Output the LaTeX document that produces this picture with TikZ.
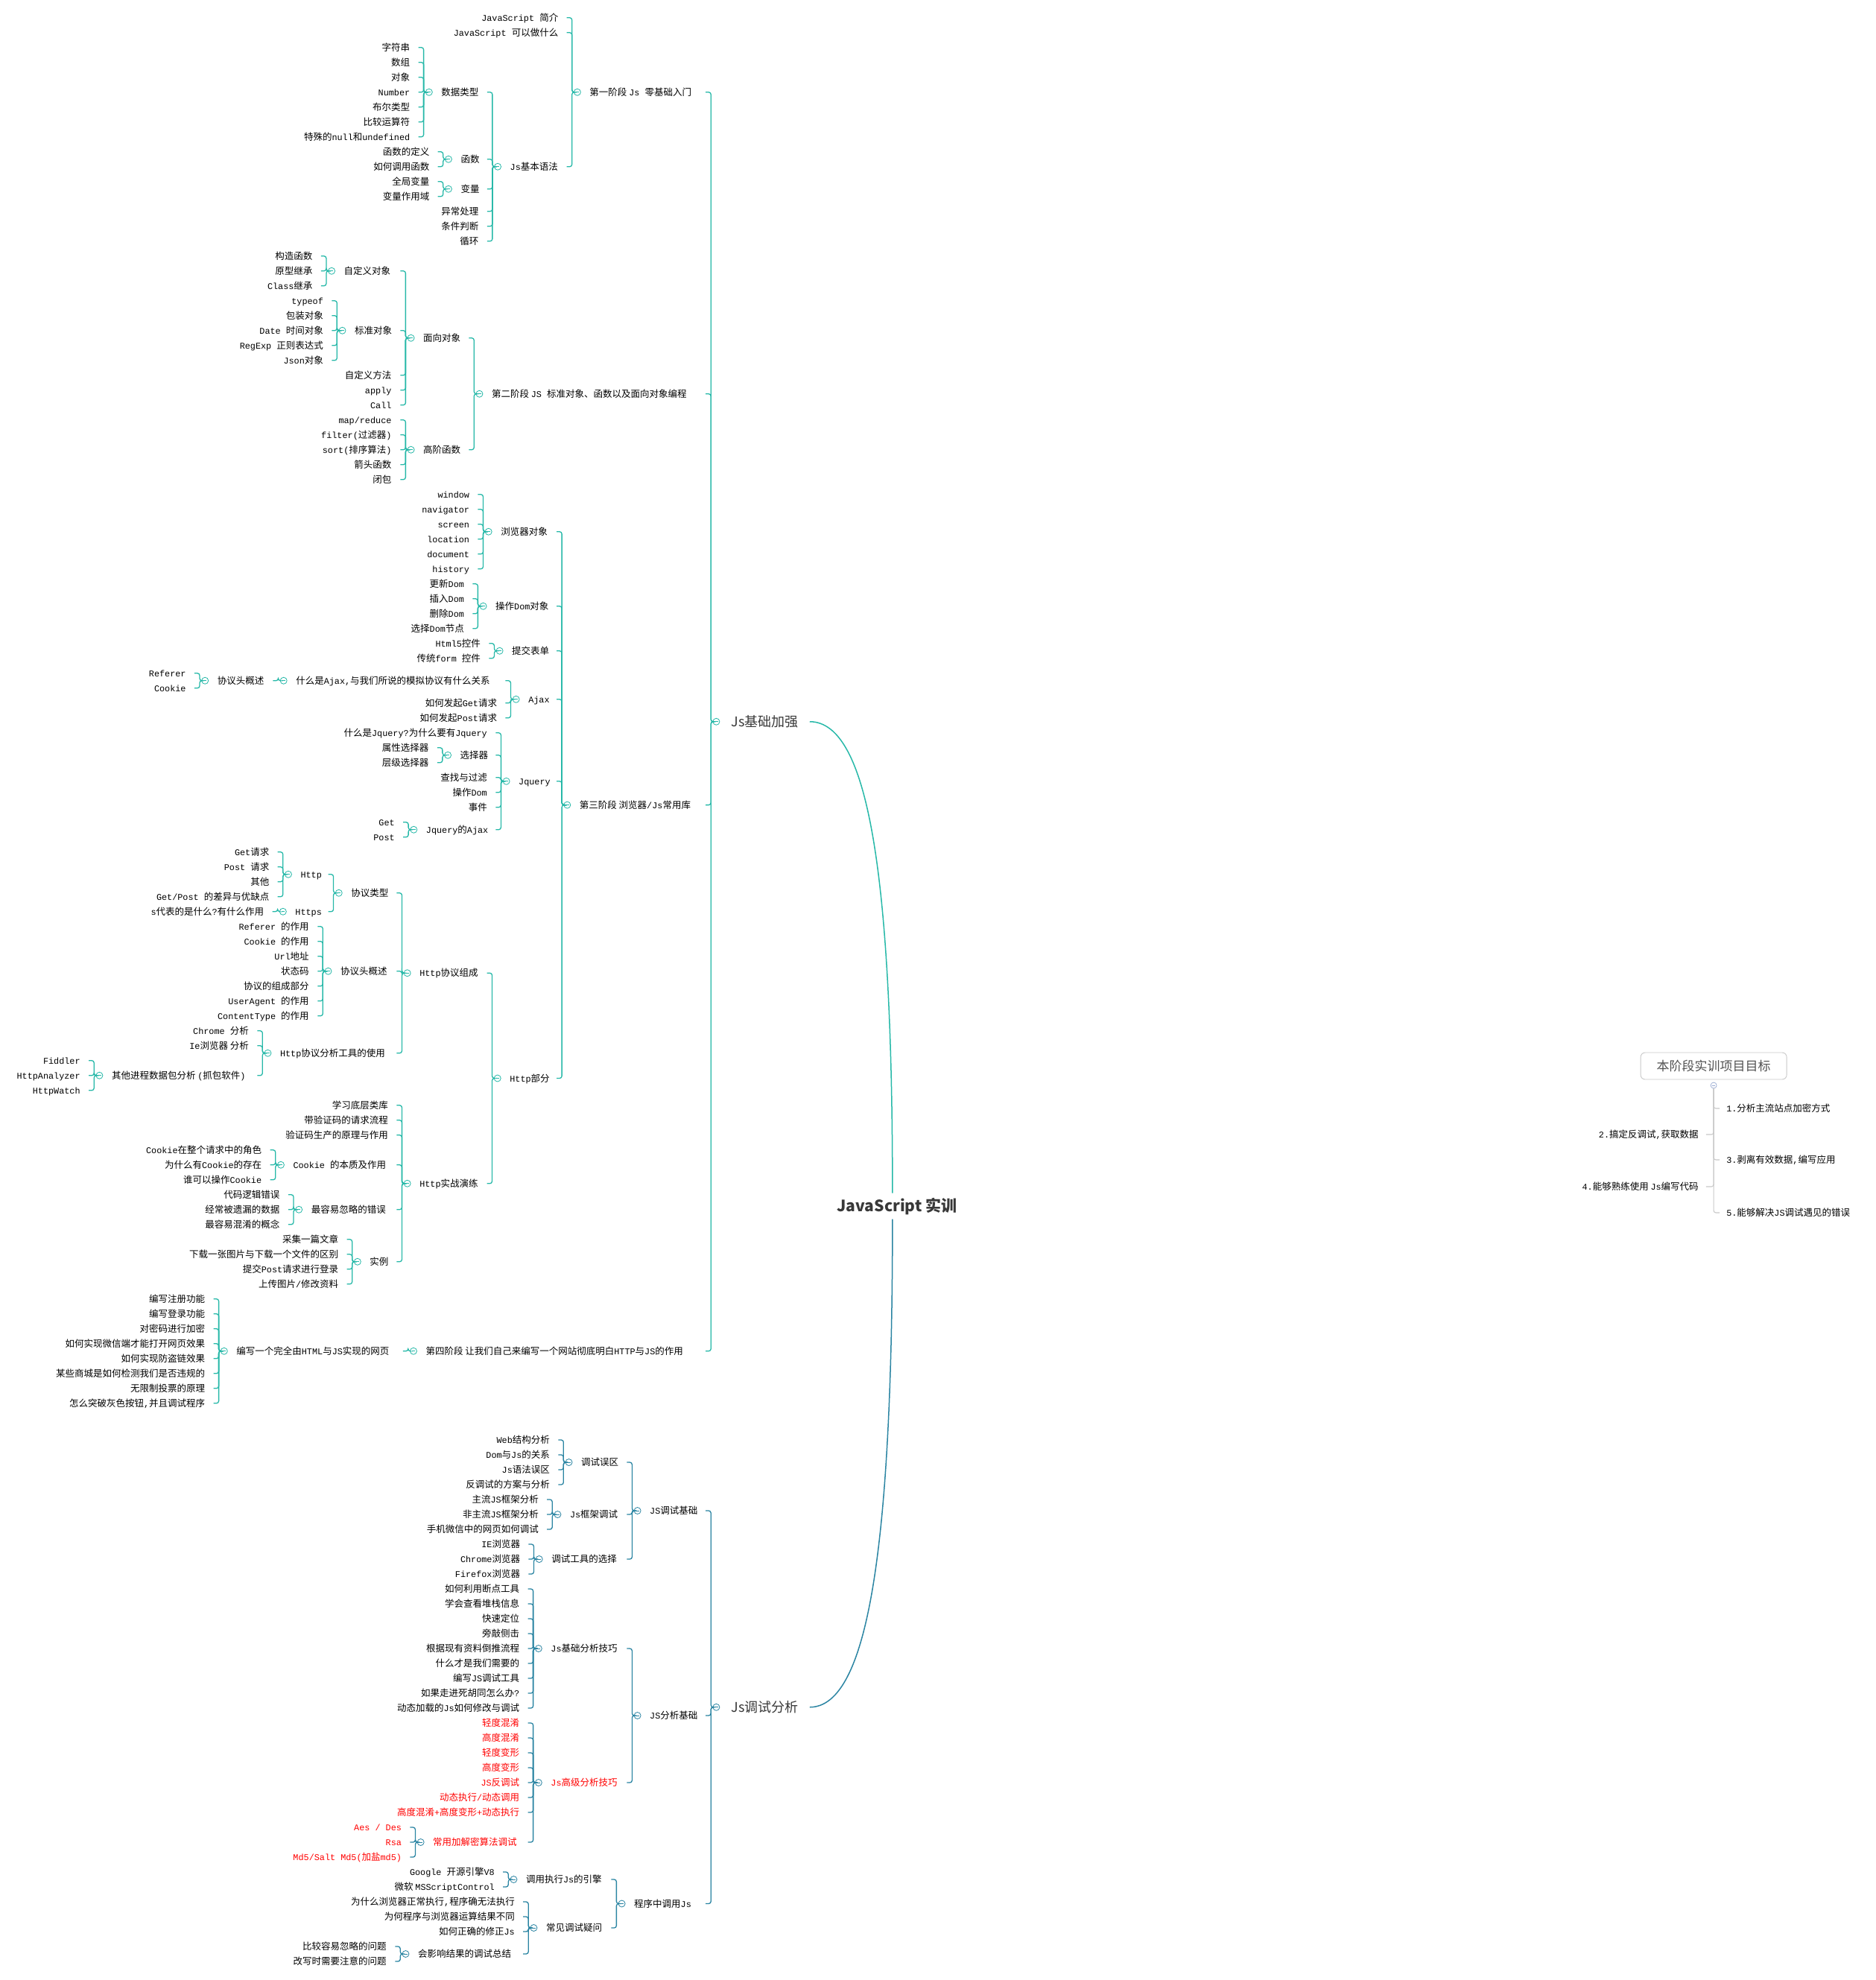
\documentclass[tikz,border=0pt]{standalone}
\usepackage{fontspec}
\usetikzlibrary{positioning,calc}

\newfontfamily\latfont{Liberation Mono}[Scale=0.945]
\newfontfamily\cjkfont{Noto Sans CJK SC}[WordSpace=3]
\newfontfamily\headfont{Noto Sans CJK SC}
\newcommand\mixfont{\latfont\fontsize{12.5}{14}\selectfont}

% Chinese characters switch to the CJK font, Latin ones back to mono
\newXeTeXintercharclass\cjkcls
\newcount\cjkn
\newcommand\cjkrange[2]{\cjkn=#1
  \loop\XeTeXcharclass\cjkn=\cjkcls \advance\cjkn by 1 \ifnum\cjkn<#2 \repeat}
\cjkrange{"3000}{"3040}
\cjkrange{"4E00}{"A000}
\cjkrange{"FF00}{"FFF0}
\XeTeXinterchartoks 0 \cjkcls = {\cjkfont}
\XeTeXinterchartoks 4095 \cjkcls = {\cjkfont}
\XeTeXinterchartoks \cjkcls 0 = {\latfont}
\XeTeXinterchartoks 4095 0 = {\latfont}
\XeTeXinterchartokenstate=1

\definecolor{topc}{RGB}{38,184,168}
\definecolor{botc}{RGB}{42,132,162}
\definecolor{headc}{RGB}{56,56,56}
\definecolor{goalc}{RGB}{200,200,200}
\definecolor{gdotc}{RGB}{150,168,208}
\colorlet{brc}{topc}

\newcommand\twigs[2]{\foreach \nd in {#2}
  \draw[link] ($(#1.west |- \nd.east)+(-9.3pt,0)$) -| ($(#1.west)+(-2.3pt,0)$) -- (#1.west);}

\begin{document}
\begin{tikzpicture}
[x=1.6956pt, y=-20pt,
leaf/.style={anchor=east, inner sep=0pt, text height=10.5pt, text depth=1.5pt, font=\mixfont},
mid/.style={inner sep=0pt, text height=10.5pt, text depth=1.5pt, font=\mixfont},
hot/.style={text=red},
dot/.style={circle, draw=brc, fill=white, line width=0.8pt, minimum size=9pt, inner sep=0pt,
  path picture={\draw[brc, line width=0.7pt] ([xshift=-2.2pt]path picture bounding box.center) -- ([xshift=2.2pt]path picture bounding box.center);}},
link/.style={draw=brc, line width=1.3pt, rounded corners=3pt},
trunk/.style={line width=1.5pt},
head/.style={inner sep=0pt, text=headc, font={\XeTeXinterchartokenstate=0 \headfont\fontsize{18}{21}\selectfont}},
goalbox/.style={draw=goalc, fill=white, rounded corners=6pt, line width=0.9pt, minimum width=196pt, minimum height=36pt,
  text=black!68, font={\XeTeXinterchartokenstate=0 \headfont\fontsize{17}{20}\selectfont}},
gdot/.style={circle, draw=gdotc, fill=white, line width=0.7pt, minimum size=8pt, inner sep=0pt,
  path picture={\draw[gdotc, line width=0.7pt] ([xshift=-2pt]path picture bounding box.center) -- ([xshift=2pt]path picture bounding box.center);}},
glink/.style={draw=goalc, line width=1.1pt, rounded corners=3pt}]

\path[use as bounding box] (0,0) rectangle (1485,132.9);

%% Js基础加强
\begin{scope}[yshift=-23.74pt]
\node[dot] (o0) at (567,47.25) {};
\node[head, right=15pt of o0] (jsA) {Js基础加强};

% stage 1
\node[dot] (o1) at (457,5) {};
\node[mid, right=11.5pt of o1] (s1) {第一阶段 Js 零基础入门};
\node[leaf] (s1a) at (442,0) {JavaScript 简介};
\node[leaf] (s1b) at (442,1) {JavaScript 可以做什么};
\node[dot] (o1c) at (394,10) {};
\node[mid, right=11.5pt of o1c] (s1c) {Js基本语法};
\node[dot] (o1d) at (339.6,5) {};
\node[mid, right=11.5pt of o1d] (s1d) {数据类型};
\node[dot] (o1e) at (355,9.5) {};
\node[mid, right=11.5pt of o1e] (s1e) {函数};
\node[dot] (o1f) at (355,11.5) {};
\node[mid, right=11.5pt of o1f] (s1f) {变量};
\node[leaf] (s1g) at (379,13) {异常处理};
\node[leaf] (s1h) at (379,14) {条件判断};
\node[leaf] (s1i) at (379,15) {循环};

\node[leaf] (d1) at (324.6,2) {字符串};
\node[leaf] (d2) at (324.6,3) {数组};
\node[leaf] (d3) at (324.6,4) {对象};
\node[leaf] (d4) at (324.6,5) {Number};
\node[leaf] (d5) at (324.6,6) {布尔类型};
\node[leaf] (d6) at (324.6,7) {比较运算符};
\node[leaf] (d7) at (324.6,8) {特殊的null和undefined};
\node[leaf] (e1) at (340,9) {函数的定义};
\node[leaf] (e2) at (340,10) {如何调用函数};
\node[leaf] (f1) at (340,11) {全局变量};
\node[leaf] (f2) at (340,12) {变量作用域};

% stage 2
\node[dot] (o2) at (379.5,25.25) {};
\node[mid, right=11.5pt of o2] (s2) {第二阶段 JS 标准对象、函数以及面向对象编程};
\node[dot] (o2a) at (325.3,21.5) {};
\node[mid, right=11.5pt of o2a] (s2a) {面向对象};
\node[dot] (o2b) at (325.3,29) {};
\node[mid, right=11.5pt of o2b] (s2b) {高阶函数};
\node[dot] (o2c) at (262.5,17) {};
\node[mid, right=11.5pt of o2c] (s2c) {自定义对象};
\node[dot] (o2d) at (271,21) {};
\node[mid, right=11.5pt of o2d] (s2d) {标准对象};
\node[leaf] (s2e) at (310,24) {自定义方法};
\node[leaf] (s2f) at (310,25) {apply};
\node[leaf] (s2g) at (310,26) {Call};

\node[leaf] (c1) at (247.5,16) {构造函数};
\node[leaf] (c2) at (247.5,17) {原型继承};
\node[leaf] (c3) at (247.5,18) {Class继承};
\node[leaf] (h1) at (256,19) {typeof};
\node[leaf] (h2) at (256,20) {包装对象};
\node[leaf] (h3) at (256,21) {Date 时间对象};
\node[leaf] (h4) at (256,22) {RegExp 正则表达式};
\node[leaf] (h5) at (256,23) {Json对象};
\node[leaf] (k1) at (310,27) {map/reduce};
\node[leaf] (k2) at (310,28) {filter(过滤器)};
\node[leaf] (k3) at (310,29) {sort(排序算法)};
\node[leaf] (k4) at (310,30) {箭头函数};
\node[leaf] (k5) at (310,31) {闭包};

% stage 3
\node[dot] (o3) at (449,52.84375) {};
\node[mid, right=11.5pt of o3] (s3) {第三阶段 浏览器/Js常用库};
\node[dot] (o3a) at (386.7,34.5) {};
\node[mid, right=11.5pt of o3a] (s3a) {浏览器对象};
\node[leaf] (w1) at (371.7,32) {window};
\node[leaf] (w2) at (371.7,33) {navigator};
\node[leaf] (w3) at (371.7,34) {screen};
\node[leaf] (w4) at (371.7,35) {location};
\node[leaf] (w5) at (371.7,36) {document};
\node[leaf] (w6) at (371.7,37) {history};
\node[dot] (o3b) at (382.5,39.5) {};
\node[mid, right=11.5pt of o3b] (s3b) {操作Dom对象};
\node[leaf] (m1) at (367.5,38) {更新Dom};
\node[leaf] (m2) at (367.5,39) {插入Dom};
\node[leaf] (m3) at (367.5,40) {删除Dom};
\node[leaf] (m4) at (367.5,41) {选择Dom节点};
\node[dot] (o3c) at (395.5,42.5) {};
\node[mid, right=11.5pt of o3c] (s3c) {提交表单};
\node[leaf] (n1) at (380.5,42) {Html5控件};
\node[leaf] (n2) at (380.5,43) {传统form 控件};
\node[dot] (o3d) at (408.5,45.75) {};
\node[mid, right=11.5pt of o3d] (s3d) {Ajax};
\node[dot] (o3e) at (224.5,44.5) {};
\node[mid, right=11.5pt of o3e] (s3e) {什么是Ajax,与我们所说的模拟协议有什么关系};
\node[dot] (o3f) at (162.3,44.5) {};
\node[mid, right=11.5pt of o3f] (s3f) {协议头概述};
\node[leaf] (r1) at (147.3,44) {Referer};
\node[leaf] (r2) at (147.3,45) {Cookie};
\node[leaf] (p1) at (393.5,46) {如何发起Get请求};
\node[leaf] (p2) at (393.5,47) {如何发起Post请求};
\node[dot] (o3g) at (400.8,51.25) {};
\node[mid, right=11.5pt of o3g] (s3g) {Jquery};
\node[leaf] (q1) at (385.7,48) {什么是Jquery?为什么要有Jquery};
\node[dot] (o3h) at (354.5,49.5) {};
\node[mid, right=11.5pt of o3h] (s3h) {选择器};
\node[leaf] (q2) at (339.4,49) {属性选择器};
\node[leaf] (q3) at (339.4,50) {层级选择器};
\node[leaf] (q4) at (385.7,51) {查找与过滤};
\node[leaf] (q5) at (385.7,52) {操作Dom};
\node[leaf] (q6) at (385.7,53) {事件};
\node[dot] (o3i) at (327.5,54.5) {};
\node[mid, right=11.5pt of o3i] (s3i) {Jquery的Ajax};
\node[leaf] (q7) at (312.5,54) {Get};
\node[leaf] (q8) at (312.5,55) {Post};

% Http
\node[dot] (oh) at (393.8,71.1875) {};
\node[mid, right=11.5pt of oh] (hp) {Http部分};
\node[dot] (oh1) at (322.4,64.125) {};
\node[mid, right=11.5pt of oh1] (hp1) {Http协议组成};
\node[dot] (oh2) at (322.4,78.25) {};
\node[mid, right=11.5pt of oh2] (hp2) {Http实战演练};
\node[dot] (oh3) at (268.2,58.75) {};
\node[mid, right=11.5pt of oh3] (hp3) {协议类型};
\node[dot] (oh4) at (228.2,57.5) {};
\node[mid, right=11.5pt of oh4] (hp4) {Http};
\node[leaf] (u1) at (213.2,56) {Get请求};
\node[leaf] (u2) at (213.2,57) {Post 请求};
\node[leaf] (u3) at (213.2,58) {其他};
\node[leaf] (u4) at (213.2,59) {Get/Post 的差异与优缺点};
\node[dot] (oh5) at (224,60) {};
\node[mid, right=11.5pt of oh5] (hp5) {Https};
\node[leaf] (u5) at (209,60) {s代表的是什么?有什么作用};
\node[dot] (oh6) at (259.8,64) {};
\node[mid, right=11.5pt of oh6] (hp6) {协议头概述};
\node[leaf] (v1) at (244.7,61) {Referer 的作用};
\node[leaf] (v2) at (244.7,62) {Cookie 的作用};
\node[leaf] (v3) at (244.7,63) {Url地址};
\node[leaf] (v4) at (244.7,64) {状态码};
\node[leaf] (v5) at (244.7,65) {协议的组成部分};
\node[leaf] (v6) at (244.7,66) {UserAgent 的作用};
\node[leaf] (v7) at (244.7,67) {ContentType 的作用};
\node[dot] (oh7) at (212,69.5) {};
\node[mid, right=11.5pt of oh7] (hp7) {Http协议分析工具的使用};
\node[leaf] (x1) at (197,68) {Chrome 分析};
\node[leaf] (x2) at (197,69) {Ie浏览器 分析};
\node[dot] (oh8) at (78.7,71) {};
\node[mid, right=11.5pt of oh8] (hp8) {其他进程数据包分析 (抓包软件)};
\node[leaf] (x3) at (63.6,70) {Fiddler};
\node[leaf] (x4) at (63.6,71) {HttpAnalyzer};
\node[leaf] (x5) at (63.6,72) {HttpWatch};
\node[leaf] (y1) at (307.3,73) {学习底层类库};
\node[leaf] (y2) at (307.3,74) {带验证码的请求流程};
\node[leaf] (y3) at (307.3,75) {验证码生产的原理与作用};
\node[dot] (oh9) at (222.3,77) {};
\node[mid, right=11.5pt of oh9] (hp9) {Cookie 的本质及作用};
\node[leaf] (z1) at (207.2,76) {Cookie在整个请求中的角色};
\node[leaf] (z2) at (207.2,77) {为什么有Cookie的存在};
\node[leaf] (z3) at (207.2,78) {谁可以操作Cookie};
\node[dot] (oh10) at (236.6,80) {};
\node[mid, right=11.5pt of oh10] (hp10) {最容易忽略的错误};
\node[leaf] (z4) at (221.5,79) {代码逻辑错误};
\node[leaf] (z5) at (221.5,80) {经常被遗漏的数据};
\node[leaf] (z6) at (221.5,81) {最容易混淆的概念};
\node[dot] (oh11) at (283,83.5) {};
\node[mid, right=11.5pt of oh11] (hp11) {实例};
\node[leaf] (z7) at (268,82) {采集一篇文章};
\node[leaf] (z8) at (268,83) {下载一张图片与下载一个文件的区别};
\node[leaf] (z9) at (268,84) {提交Post请求进行登录};
\node[leaf] (z10) at (268,85) {上传图片/修改资料};

% stage 4
\node[dot] (o4) at (327.3,89.5) {};
\node[mid, right=11.5pt of o4] (s4) {第四阶段 让我们自己来编写一个网站彻底明白HTTP与JS的作用};
\node[dot] (o4a) at (177.4,89.5) {};
\node[mid, right=11.5pt of o4a] (s4a) {编写一个完全由HTML与JS实现的网页};
\node[leaf] (b1) at (162.4,86) {编写注册功能};
\node[leaf] (b2) at (162.4,87) {编写登录功能};
\node[leaf] (b3) at (162.4,88) {对密码进行加密};
\node[leaf] (b4) at (162.4,89) {如何实现微信端才能打开网页效果};
\node[leaf] (b5) at (162.4,90) {如何实现防盗链效果};
\node[leaf] (b6) at (162.4,91) {某些商城是如何检测我们是否违规的};
\node[leaf] (b7) at (162.4,92) {无限制投票的原理};
\node[leaf] (b8) at (162.4,93) {怎么突破灰色按钮,并且调试程序};

\twigs{o0}{s1,s2,s3,s4}
\twigs{o1}{s1a,s1b,s1c}
\twigs{o1c}{s1d,s1e,s1f,s1g,s1h,s1i}
\twigs{o1d}{d1,d2,d3,d4,d5,d6,d7}
\twigs{o1e}{e1,e2}
\twigs{o1f}{f1,f2}
\twigs{o2}{s2a,s2b}
\twigs{o2a}{s2c,s2d,s2e,s2f,s2g}
\twigs{o2c}{c1,c2,c3}
\twigs{o2d}{h1,h2,h3,h4,h5}
\twigs{o2b}{k1,k2,k3,k4,k5}
\twigs{o3}{s3a,s3b,s3c,s3d,s3g,hp}
\twigs{o3a}{w1,w2,w3,w4,w5,w6}
\twigs{o3b}{m1,m2,m3,m4}
\twigs{o3c}{n1,n2}
\twigs{o3d}{s3e,p1,p2}
\twigs{o3e}{s3f}
\twigs{o3f}{r1,r2}
\twigs{o3g}{q1,s3h,q4,q5,q6,s3i}
\twigs{o3h}{q2,q3}
\twigs{o3i}{q7,q8}
\twigs{oh}{hp1,hp2}
\twigs{oh1}{hp3,hp6,hp7}
\twigs{oh3}{hp4,hp5}
\twigs{oh4}{u1,u2,u3,u4}
\twigs{oh5}{u5}
\twigs{oh6}{v1,v2,v3,v4,v5,v6,v7}
\twigs{oh7}{x1,x2,hp8}
\twigs{oh8}{x3,x4,x5}
\twigs{oh2}{y1,y2,y3,hp9,hp10,hp11}
\twigs{oh9}{z1,z2,z3}
\twigs{oh10}{z4,z5,z6}
\twigs{oh11}{z7,z8,z9,z10}
\twigs{o4}{s4a}
\twigs{o4a}{b1,b2,b3,b4,b5,b6,b7,b8}
\end{scope}

%% Js调试分析
\begin{scope}[yshift=-1933pt]
\colorlet{brc}{botc}
\node[dot] (ob) at (567,17.9375) {};
\node[head, right=15pt of ob] (jsB) {Js调试分析};

\node[dot] (ob1) at (504.6,4.75) {};
\node[mid, right=11.5pt of ob1] (t1) {JS调试基础};
\node[dot] (ob2) at (450.3,1.5) {};
\node[mid, right=11.5pt of ob2] (t2) {调试误区};
\node[leaf] (i1) at (435.3,0) {Web结构分析};
\node[leaf] (i2) at (435.3,1) {Dom与Js的关系};
\node[leaf] (i3) at (435.3,2) {Js语法误区};
\node[leaf] (i4) at (435.3,3) {反调试的方案与分析};
\node[dot] (ob3) at (441.4,5) {};
\node[mid, right=11.5pt of ob3] (t3) {Js框架调试};
\node[leaf] (i5) at (426.4,4) {主流JS框架分析};
\node[leaf] (i6) at (426.4,5) {非主流JS框架分析};
\node[leaf] (i7) at (426.4,6) {手机微信中的网页如何调试};
\node[dot] (ob4) at (426.8,8) {};
\node[mid, right=11.5pt of ob4] (t4) {调试工具的选择};
\node[leaf] (i8) at (411.8,7) {IE浏览器};
\node[leaf] (i9) at (411.8,8) {Chrome浏览器};
\node[leaf] (i10) at (411.8,9) {Firefox浏览器};

\node[dot] (ob5) at (504.6,18.5) {};
\node[mid, right=11.5pt of ob5] (t5) {JS分析基础};
\node[dot] (ob6) at (426.3,14) {};
\node[mid, right=11.5pt of ob6] (t6) {Js基础分析技巧};
\node[leaf] (j1) at (411.3,10) {如何利用断点工具};
\node[leaf] (j2) at (411.3,11) {学会查看堆栈信息};
\node[leaf] (j3) at (411.3,12) {快速定位};
\node[leaf] (j4) at (411.3,13) {旁敲侧击};
\node[leaf] (j5) at (411.3,14) {根据现有资料倒推流程};
\node[leaf] (j6) at (411.3,15) {什么才是我们需要的};
\node[leaf] (j7) at (411.3,16) {编写JS调试工具};
\node[leaf] (j8) at (411.3,17) {如果走进死胡同怎么办?};
\node[leaf] (j9) at (411.3,18) {动态加载的Js如何修改与调试};
\node[dot] (ob7) at (426.3,23) {};
\node[mid, hot, right=11.5pt of ob7] (t7) {Js高级分析技巧};
\node[leaf, hot] (j10) at (411.3,19) {轻度混淆};
\node[leaf, hot] (j11) at (411.3,20) {高度混淆};
\node[leaf, hot] (j12) at (411.3,21) {轻度变形};
\node[leaf, hot] (j13) at (411.3,22) {高度变形};
\node[leaf, hot] (j14) at (411.3,23) {JS反调试};
\node[leaf, hot] (j15) at (411.3,24) {动态执行/动态调用};
\node[leaf, hot] (j16) at (411.3,25) {高度混淆+高度变形+动态执行};
\node[dot] (ob8) at (333,27) {};
\node[mid, hot, right=11.5pt of ob8] (t8) {常用加解密算法调试};
\node[leaf, hot] (j17) at (318,26) {Aes / Des};
\node[leaf, hot] (j18) at (318,27) {Rsa};
\node[leaf, hot] (j19) at (318,28) {Md5/Salt Md5(加盐md5)};

\node[dot] (ob9) at (492.2,31.125) {};
\node[mid, right=11.5pt of ob9] (t9) {程序中调用Js};
\node[dot] (ob10) at (406.6,29.5) {};
\node[mid, right=11.5pt of ob10] (t10) {调用执行Js的引擎};
\node[leaf] (l1) at (391.6,29) {Google 开源引擎V8};
\node[leaf] (l2) at (391.6,30) {微软 MSScriptControl};
\node[dot] (ob11) at (422.5,32.75) {};
\node[mid, right=11.5pt of ob11] (t11) {常见调试疑问};
\node[leaf] (l3) at (407.5,31) {为什么浏览器正常执行,程序确无法执行};
\node[leaf] (l4) at (407.5,32) {为何程序与浏览器运算结果不同};
\node[leaf] (l5) at (407.5,33) {如何正确的修正Js};
\node[dot] (ob12) at (321.1,34.5) {};
\node[mid, right=11.5pt of ob12] (t12) {会影响结果的调试总结};
\node[leaf] (l6) at (306,34) {比较容易忽略的问题};
\node[leaf] (l7) at (306,35) {改写时需要注意的问题};

\twigs{ob}{t1,t5,t9}
\twigs{ob1}{t2,t3,t4}
\twigs{ob2}{i1,i2,i3,i4}
\twigs{ob3}{i5,i6,i7}
\twigs{ob4}{i8,i9,i10}
\twigs{ob5}{t6,t7}
\twigs{ob6}{j1,j2,j3,j4,j5,j6,j7,j8,j9}
\twigs{ob7}{j10,j11,j12,j13,j14,j15,j16,t8}
\twigs{ob8}{j17,j18,j19}
\twigs{ob9}{t10,t11}
\twigs{ob10}{l1,l2}
\twigs{ob11}{l3,l4,l5,t12}
\twigs{ob12}{l6,l7}
\end{scope}

%% centre
\node[inner sep=0pt, text=headc, font={\XeTeXinterchartokenstate=0 \headfont\bfseries\fontsize{21}{24}\selectfont}] (root) at (710,80.96) {JavaScript 实训};
\draw[trunk, topc] ([xshift=15pt]jsA.east) .. controls +(80pt,0) and +(0,420pt) .. ([xshift=-6pt,yshift=6pt]root.north);
\draw[trunk, botc] ([xshift=-6pt,yshift=-6pt]root.south) .. controls +(0,-430pt) and +(80pt,0) .. ([xshift=15pt]jsB.east);

%% goals
\node[goalbox] (goal) at (1356.5,71.55) {本阶段实训项目目标};
\node[gdot] (og) at (1356.5,72.85) {};
\node[mid, anchor=west] (g1) at (1366.5,74.4) {1.分析主流站点加密方式};
\node[mid, anchor=east] (g2) at (1344.6,76.15) {2.搞定反调试,获取数据};
\node[mid, anchor=west] (g3) at (1366.5,77.85) {3.剥离有效数据,编写应用};
\node[mid, anchor=east] (g4) at (1344.6,79.65) {4.能够熟练使用 Js编写代码};
\node[mid, anchor=west] (g5) at (1366.5,81.4) {5.能够解决JS调试遇见的错误};
\foreach \g in {g1,g3,g5} \draw[glink] (og.south) |- ($(\g.west)+(-9pt,0)$);
\foreach \g in {g2,g4} \draw[glink] (og.south) |- ($(\g.east)+(10pt,0)$);
\end{tikzpicture}
\end{document}
